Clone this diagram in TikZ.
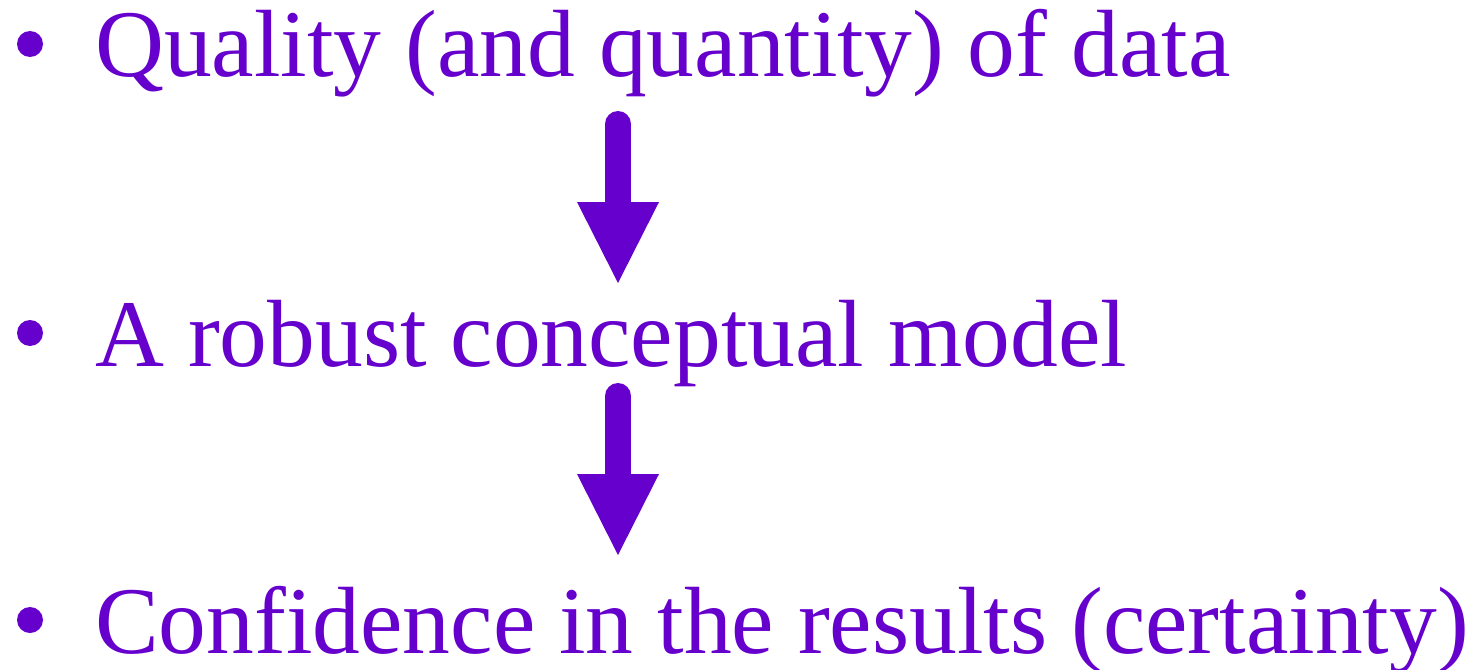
\documentclass[tikz,border=0pt]{standalone}
\usepackage{fontspec}
\setmainfont{Liberation Serif}
\definecolor{vio}{HTML}{6600CC}
\begin{document}
\begin{tikzpicture}[x=1pt,y=-1pt,
  txt/.style={anchor=base west,inner sep=0pt,text=vio,font=\fontsize{95.5}{100}\selectfont},
  bul/.style={circle,fill=vio,minimum size=26pt,inner sep=0pt},
  shaft/.style={draw=vio,line width=26pt,line cap=round},
  head/.style={fill=vio}]
\useasboundingbox (0,0) rectangle (1474,669);
\node[bul] (b1) at (30,44) {};
\node[bul] (b2) at (30,333) {};
\node[bul] (b3) at (30,620) {};
\node[txt] (t1) at (95,77) {Quality (and quantity) of data};
\node[txt] (t2) at (95,366) {A robust conceptual model};
\node[txt] (t3) at (95,653) {Confidence in the results (certainty)};
\coordinate (a1s) at (618,124);
\coordinate (a1e) at (618,204);
\draw[shaft] (a1s) -- (a1e);
\fill[head] (577,202) -- (659,202) -- (618,283) -- cycle;
\coordinate (a2s) at (618,396);
\coordinate (a2e) at (618,476);
\draw[shaft] (a2s) -- (a2e);
\fill[head] (577,474) -- (659,474) -- (618,555) -- cycle;
\end{tikzpicture}
\end{document}
